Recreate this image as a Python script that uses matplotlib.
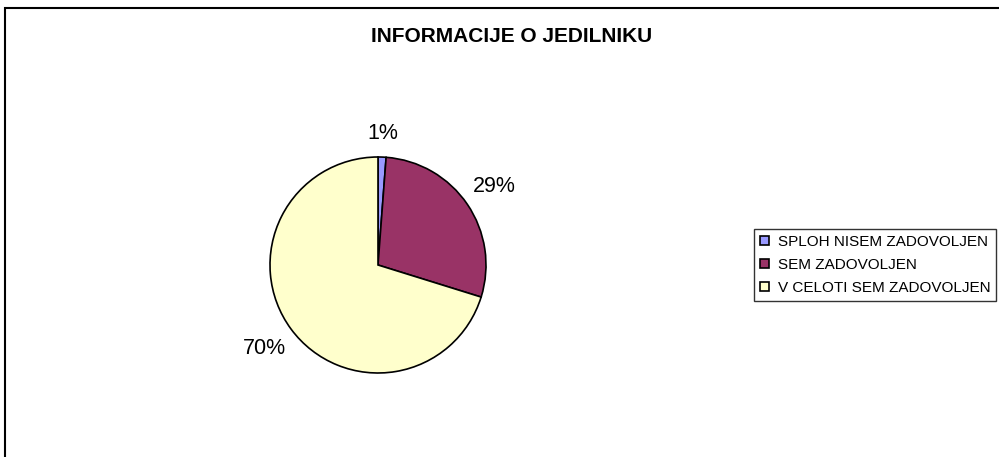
import matplotlib
matplotlib.use("Agg")
import numpy as np
import matplotlib.pyplot as plt
from matplotlib.patches import Rectangle

plt.rcParams['font.family'] = ['Liberation Sans', 'DejaVu Sans']

categories = ["SPLOH NISEM ZADOVOLJEN", "SEM ZADOVOLJEN", "V CELOTI SEM ZADOVOLJEN"]
values = [1.2, 28.6, 70.2]
labels = ["1%", "29%", "70%"]
colors = ["#9999FF", "#993366", "#FFFFCC"]
label_dist = [1.22, 1.3, 1.3]

W, H = 999, 457
fig = plt.figure(figsize=(W/100, H/100), dpi=100)

# chart frame (only top and left edges visible)
fig.patches.append(Rectangle((5/W, -0.1), 1.2, (H-8)/H + 0.1, transform=fig.transFigure,
                             fill=False, edgecolor='black', linewidth=1.5))

cx, cy, r = 378, 265, 108
ax = fig.add_axes([(cx - r)/W, (H - cy - r)/H, 2*r/W, 2*r/H])
wedges, texts = ax.pie(values, colors=colors, startangle=90, counterclock=False,
                       labels=labels, labeldistance=1.3,
                       wedgeprops=dict(edgecolor='black', linewidth=1.2))
for w, t, d in zip(wedges, texts, label_dist):
    ang = np.deg2rad((w.theta1 + w.theta2) / 2)
    t.set_position((d * np.cos(ang), d * np.sin(ang)))
    t.set_ha('center')
    t.set_va('center')
    t.set_fontsize(15.5)
    t.set_clip_on(False)
ax.set_aspect('equal')
ax.set_xlim(-1, 1)
ax.set_ylim(-1, 1)

fig.text(512/W, 1 - 37/H, "INFORMACIJE O JEDILNIKU", ha='center', va='center',
         fontsize=15, fontweight='bold')

leg = fig.legend(wedges, categories, loc='center left', bbox_to_anchor=(754/W, 1 - 265/H),
                 fontsize=11, frameon=True, fancybox=False, edgecolor='black',
                 handlelength=0.55, handleheight=0.55, handletextpad=0.6,
                 labelspacing=0.6, borderpad=0.4, borderaxespad=0)
leg.get_frame().set_linewidth(1.0)

fig.savefig("out.png", dpi=100)
